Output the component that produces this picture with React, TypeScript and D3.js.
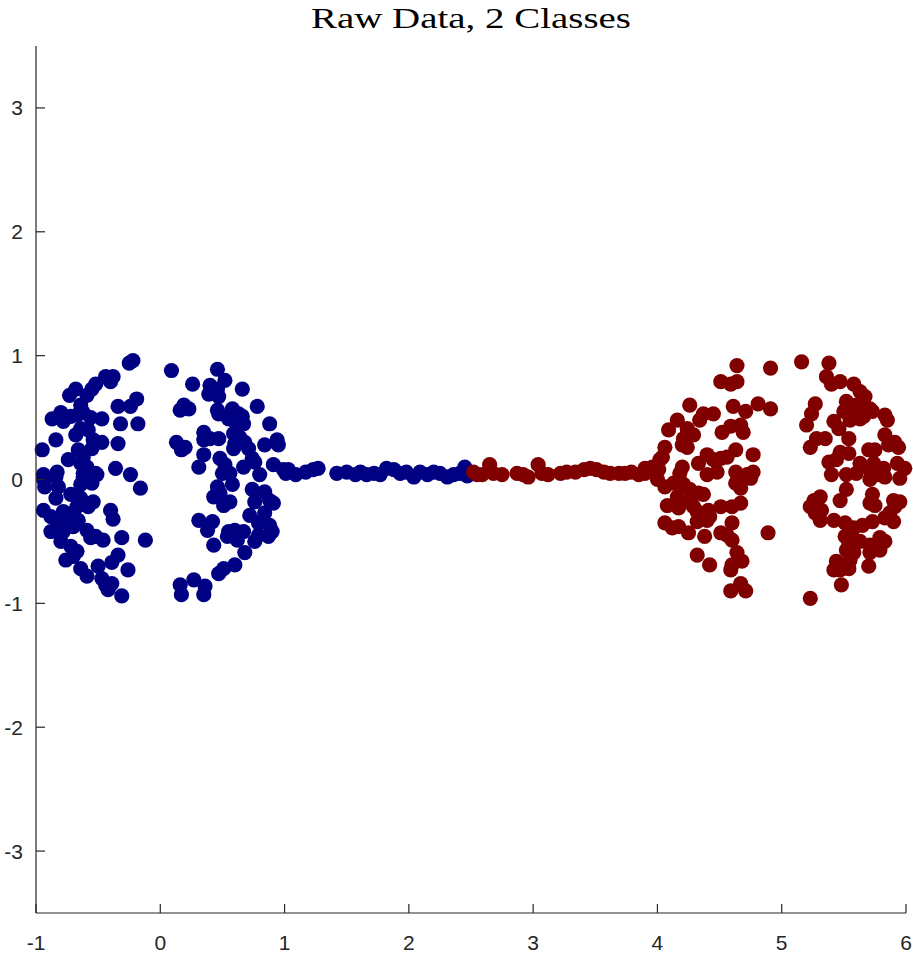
import React from "react";
import * as d3 from "d3";

const TITLE = "Raw Data, 2 Classes";
const X_TICKS = [-1, 0, 1, 2, 3, 4, 5, 6];
const Y_TICKS = [-3, -2, -1, 0, 1, 2, 3];
const X_DOMAIN: [number, number] = [-1, 6];
const Y_DOMAIN: [number, number] = [-3.5, 3.5];

// Class 1 (blue): left disc
const blueCluster: [number, number][] = [
  [-0.25,0.94],[-0.22,0.96],[-0.44,0.83],[-0.38,0.83],[-0.40,0.79],[-0.52,0.77],[-0.55,0.73],[-0.59,0.68],[-0.68,0.73],[-0.73,0.68],
  [-0.19,0.65],[-0.24,0.59],[-0.34,0.59],[-0.80,0.54],[-0.87,0.49],[-0.64,0.60],[-0.62,0.54],[-0.56,0.50],[-0.47,0.49],[-0.67,0.52],
  [-0.72,0.51],[-0.78,0.47],[-0.32,0.45],[-0.18,0.45],[-0.84,0.32],[-0.95,0.24],[-0.68,0.36],[-0.64,0.41],[-0.58,0.40],[-0.54,0.32],
  [-0.47,0.30],[-0.34,0.29],[-0.66,0.24],[-0.55,0.25],[-0.62,0.18],[-0.74,0.16],[-0.36,0.09],[-0.24,0.04],[-0.94,0.04],[-0.83,0.06],
  [-0.62,0.05],[-0.52,0.05],[-0.59,0.10],[-0.64,0.13],
  [-0.94,0.00],[-0.84,0.02],[-0.93,-0.06],[-0.82,-0.06],[-0.62,0.02],[-0.51,0.04],[-0.55,-0.03],[-0.64,-0.04],[-0.16,-0.07],
  [-0.84,-0.15],[-0.72,-0.12],[-0.64,-0.15],[-0.62,-0.19],[-0.54,-0.18],[-0.58,-0.22],[-0.67,-0.22],[-0.94,-0.25],[-0.88,-0.30],
  [-0.78,-0.26],[-0.70,-0.27],[-0.66,-0.33],[-0.83,-0.34],[-0.75,-0.35],[-0.88,-0.42],[-0.78,-0.42],[-0.70,-0.38],[-0.40,-0.25],
  [-0.38,-0.32],[-0.59,-0.41],[-0.52,-0.46],[-0.46,-0.49],[-0.56,-0.47],[-0.31,-0.47],[-0.12,-0.49],[-0.80,-0.50],[-0.72,-0.54],
  [-0.67,-0.58],[-0.76,-0.65],[-0.70,-0.62],[-0.34,-0.61],[-0.39,-0.67],[-0.50,-0.70],[-0.64,-0.72],[-0.59,-0.78],[-0.26,-0.73],
  [-0.47,-0.80],[-0.44,-0.85],[-0.39,-0.84],[-0.42,-0.89],[-0.31,-0.94],
  [0.09,0.88],[0.46,0.89],[0.52,0.80],[0.26,0.77],[0.40,0.76],[0.39,0.69],[0.46,0.73],[0.47,0.67],[0.66,0.73],[0.19,0.60],
  [0.16,0.56],[0.23,0.57],[0.46,0.56],[0.47,0.53],[0.58,0.57],[0.63,0.53],[0.66,0.51],[0.55,0.49],[0.60,0.47],[0.67,0.45],
  [0.78,0.59],[0.88,0.45],[0.35,0.38],[0.40,0.33],[0.47,0.33],[0.35,0.32],[0.59,0.37],[0.64,0.34],[0.60,0.29],[0.68,0.30],
  [0.71,0.25],[0.59,0.25],[0.13,0.30],[0.20,0.26],[0.17,0.24],[0.84,0.28],[0.94,0.32],[0.95,0.28],[0.35,0.20],[0.31,0.10],
  [0.48,0.17],[0.52,0.12],[0.67,0.10],[0.74,0.17],[0.76,0.14],[0.91,0.12],[0.99,0.08],[1.03,0.08],[0.50,0.05],[0.56,0.05],[0.80,0.04],
  [0.58,-0.04],[0.46,-0.06],[0.43,-0.14],[0.51,-0.21],[0.56,-0.18],[0.48,-0.11],[0.74,-0.08],[0.84,-0.10],[0.76,-0.18],
  [0.88,-0.17],[0.91,-0.19],[0.72,-0.29],[0.84,-0.27],[0.79,-0.35],[0.88,-0.37],[0.90,-0.42],[0.79,-0.45],[0.76,-0.50],[0.87,-0.46],
  [0.31,-0.33],[0.42,-0.34],[0.38,-0.41],[0.55,-0.42],[0.60,-0.41],[0.62,-0.49],[0.67,-0.42],[0.54,-0.46],[0.43,-0.53],[0.68,-0.59],
  [0.60,-0.69],[0.51,-0.72],[0.47,-0.76],[0.27,-0.81],[0.16,-0.85],[0.17,-0.93],[0.36,-0.86],[0.35,-0.93],
];

// Class 1 (blue): bridge
const blueBridge: [number, number][] = [
  [1.01,0.05],[1.09,0.04],[1.17,0.06],[1.23,0.08],[1.27,0.09],[1.42,0.05],[1.50,0.06],[1.57,0.04],[1.61,0.06],[1.66,0.04],
  [1.72,0.05],[1.77,0.04],[1.82,0.09],[1.88,0.08],[1.93,0.05],[1.98,0.06],[2.04,0.02],[2.09,0.06],[2.15,0.04],[2.20,0.06],
  [2.25,0.05],[2.31,0.02],[2.36,0.04],[2.41,0.05],[2.45,0.10],[2.47,0.03],
];

// Class 2 (red): bridge
const redBridge: [number, number][] = [
  [2.52,0.06],[2.55,0.04],[2.59,0.04],[2.65,0.12],[2.68,0.05],[2.75,0.04],[2.87,0.05],[2.92,0.04],[2.96,0.02],[3.04,0.12],
  [3.07,0.05],[3.12,0.04],[3.22,0.05],[3.27,0.06],[3.34,0.06],[3.41,0.08],[3.46,0.09],[3.51,0.08],[3.57,0.06],[3.62,0.05],
  [3.69,0.05],[3.74,0.05],[3.79,0.06],[3.85,0.04],[3.90,0.05],[3.96,0.10],[4.00,0.00],
];

// Class 2 (red): right disc
const redCluster: [number, number][] = [
  [4.64,0.92],[4.91,0.90],[4.51,0.79],[4.59,0.77],[4.64,0.79],[4.26,0.60],[4.37,0.53],[4.45,0.53],[4.34,0.48],[4.61,0.59],
  [4.71,0.55],[4.81,0.61],[4.91,0.57],[4.16,0.48],[4.09,0.40],[4.24,0.41],[4.29,0.36],[4.21,0.33],[4.52,0.38],[4.59,0.43],
  [4.67,0.44],[4.69,0.38],[4.06,0.26],[4.04,0.18],[4.20,0.28],[4.24,0.26],[4.77,0.20],[4.40,0.20],[4.45,0.16],[4.33,0.13],
  [4.51,0.17],[4.56,0.18],[4.63,0.24],[4.20,0.10],[4.18,0.05],[3.90,0.09],[4.01,0.08],[4.02,0.16],[4.63,0.06],[4.77,0.06],
  [4.72,0.04],[4.40,0.04],[4.48,0.06],
  [4.13,-0.03],[4.06,-0.06],[4.21,-0.04],[4.26,-0.08],[4.33,-0.11],[4.37,-0.12],[4.16,-0.14],[4.26,-0.17],[4.08,-0.21],[4.17,-0.23],
  [4.29,-0.22],[4.32,-0.26],[4.36,-0.30],[4.42,-0.30],[4.41,-0.25],[4.51,-0.22],[4.60,-0.22],[4.67,-0.19],[4.32,-0.34],[4.40,-0.33],
  [4.63,-0.03],[4.67,-0.07],[4.75,0.01],[4.06,-0.35],[4.12,-0.39],[4.17,-0.38],[4.25,-0.43],[4.38,-0.46],[4.51,-0.43],[4.60,-0.35],
  [4.60,-0.49],[4.56,-0.45],[4.89,-0.43],[4.32,-0.61],[4.42,-0.69],[4.64,-0.59],[4.68,-0.66],[4.60,-0.69],[4.59,-0.73],[4.59,-0.90],
  [4.67,-0.84],[4.71,-0.90],
  [5.16,0.95],[5.38,0.94],[5.36,0.83],[5.40,0.77],[5.47,0.79],[5.58,0.77],[5.63,0.71],[5.67,0.67],[5.27,0.61],[5.24,0.53],
  [5.20,0.44],[5.52,0.63],[5.50,0.55],[5.56,0.57],[5.60,0.60],[5.67,0.59],[5.71,0.57],[5.73,0.55],[5.63,0.49],[5.55,0.48],
  [5.62,0.56],[5.66,0.51],[5.83,0.52],[5.85,0.48],[5.42,0.47],[5.46,0.41],[5.54,0.33],[5.28,0.33],[5.35,0.33],[5.23,0.26],
  [5.83,0.36],[5.91,0.30],[5.94,0.26],[5.86,0.28],[5.47,0.22],[5.54,0.21],[5.38,0.14],[5.44,0.16],[5.70,0.24],[5.75,0.24],
  [5.63,0.13],[5.74,0.13],[5.71,0.08],[5.82,0.09],[5.93,0.13],[5.99,0.09],[5.40,0.04],[5.52,0.04],[5.60,0.05],
  [5.23,-0.96],[5.71,0.00],[5.77,0.04],[5.83,0.02],[5.95,0.01],[5.52,-0.08],[5.47,-0.17],[5.26,-0.17],[5.31,-0.14],[5.23,-0.22],
  [5.27,-0.27],[5.32,-0.25],[5.31,-0.33],[5.73,-0.12],[5.71,-0.19],[5.75,-0.21],[5.90,-0.17],[5.95,-0.18],[5.91,-0.22],[5.42,-0.33],
  [5.51,-0.35],[5.58,-0.39],[5.65,-0.37],[5.73,-0.34],[5.87,-0.27],[5.90,-0.34],[5.83,-0.31],[5.51,-0.46],[5.54,-0.51],[5.58,-0.49],
  [5.63,-0.50],[5.71,-0.53],[5.79,-0.47],[5.83,-0.50],[5.79,-0.57],[5.71,-0.59],[5.52,-0.57],[5.58,-0.59],[5.55,-0.65],[5.44,-0.66],
  [5.42,-0.73],[5.47,-0.73],[5.54,-0.72],[5.70,-0.70],[5.48,-0.85],
];

const BLUE = "rgb(0,0,131)";
const RED = "rgb(128,0,0)";
const AXIS = "#262626";

export default function App() {
  const W = 913, H = 954;
  const x = d3.scaleLinear().domain(X_DOMAIN).range([36, 906]);
  const y = d3.scaleLinear().domain(Y_DOMAIN).range([913, 46]);
  const r = 7.6;
  const tick = 9;
  const series = [
    { color: BLUE, pts: [...blueCluster, ...blueBridge] },
    { color: RED, pts: [...redBridge, ...redCluster] },
  ];
  return (
    <svg width={W} height={H} style={{ position: "absolute", left: 0, top: 0, background: "#fff" }}>
      <rect x={0} y={0} width={W} height={H} fill="#fff" />
      {series.map((s, si) => (
        <g key={si} fill={s.color}>
          {s.pts.map((p, i) => (
            <circle key={i} cx={x(p[0])} cy={y(p[1])} r={r} />
          ))}
        </g>
      ))}
      <g stroke={AXIS} strokeWidth={1.2} fill="none">
        <line x1={x(X_DOMAIN[0])} y1={y(Y_DOMAIN[0])} x2={x(X_DOMAIN[1])} y2={y(Y_DOMAIN[0])} />
        <line x1={x(X_DOMAIN[0])} y1={y(Y_DOMAIN[0])} x2={x(X_DOMAIN[0])} y2={y(Y_DOMAIN[1])} />
        {X_TICKS.map((t) => (
          <line key={"xt" + t} x1={x(t)} x2={x(t)} y1={y(Y_DOMAIN[0])} y2={y(Y_DOMAIN[0]) - tick} />
        ))}
        {Y_TICKS.map((t) => (
          <line key={"yt" + t} x1={x(X_DOMAIN[0])} x2={x(X_DOMAIN[0]) + tick} y1={y(t)} y2={y(t)} />
        ))}
      </g>
      <g fill={AXIS} fontFamily="'Liberation Sans', Arial, Helvetica, sans-serif" fontSize={21}>
        {X_TICKS.map((t) => (
          <text key={"xl" + t} x={x(t)} y={950} textAnchor="middle">{String(t)}</text>
        ))}
        {Y_TICKS.map((t) => (
          <text key={"yl" + t} x={23} y={y(t) + 7.5} textAnchor="end">{String(t)}</text>
        ))}
      </g>
      <text x={471} y={28} textAnchor="middle" fontFamily="'Liberation Serif', 'Times New Roman', serif" fontSize={29} fill="#000" textLength={320} lengthAdjust="spacingAndGlyphs">{TITLE}</text>
    </svg>
  );
}
